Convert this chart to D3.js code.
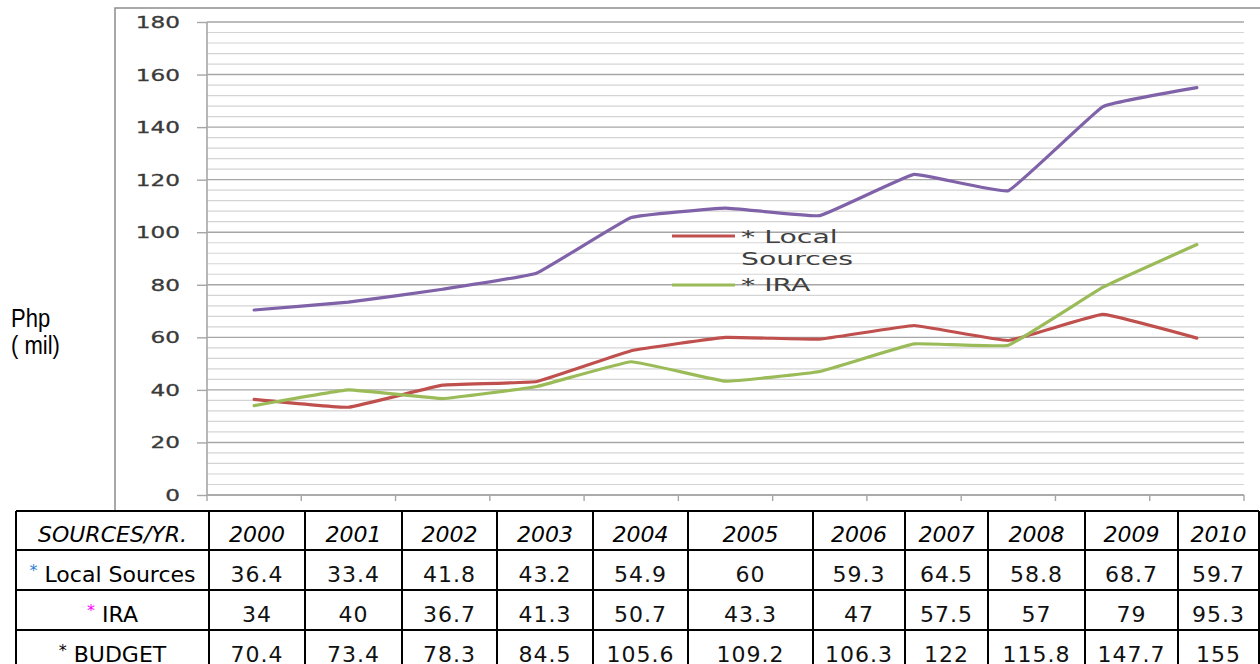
<!DOCTYPE html>
<html><head><meta charset="utf-8">
<script src="https://cdn.jsdelivr.net/npm/d3@7"></script>
<style>body{margin:0;background:#fff}svg{display:block}</style>
</head><body>
<svg id="c" width="1260" height="664"></svg>
<script>
const years = ["2000","2001","2002","2003","2004","2005","2006","2007","2008","2009","2010"];
const localSources = [36.4,33.4,41.8,43.2,54.9,60,59.3,64.5,58.8,68.7,59.7];
const ira = [34,40,36.7,41.3,50.7,43.3,47,57.5,57,79,95.3];
const budget = [70.4,73.4,78.3,84.5,105.6,109.2,106.3,122,115.8,147.7,155];
const yTicks = [0,20,40,60,80,100,120,140,160,180];
const tableLabels = ["Local Sources","IRA","BUDGET"];
const tableHeader = "SOURCES/YR.";
const legendLabels = ["* Local","Sources","* IRA"];

const svg = d3.select("#c");
const x = d3.scaleBand().domain(years).range([207,1244]);
const y = d3.scaleLinear().domain([0,180]).range([495,22]);

// outer chart frame
svg.append("rect").attr("x",115).attr("y",8).attr("width",1200).attr("height",510)
  .attr("fill","#fff").attr("stroke","#8c8c8c").attr("stroke-width",1.5);

// minor gridlines
const minor = d3.range(0,181,4).filter(v=>v%20!==0);
svg.append("g").selectAll("line").data(minor).join("line")
  .attr("x1",207).attr("x2",1244).attr("y1",d=>y(d)).attr("y2",d=>y(d))
  .attr("stroke","#d4d4d4").attr("stroke-width",1.2);
// major gridlines
svg.append("g").selectAll("line").data(yTicks).join("line")
  .attr("x1",207).attr("x2",1244).attr("y1",d=>y(d)).attr("y2",d=>y(d))
  .attr("stroke","#a6a6a6").attr("stroke-width",1.4);

// y axis
const ya = svg.append("g").attr("transform","translate(207,0)")
  .call(d3.axisLeft(y).tickValues(yTicks).tickSize(10).tickPadding(0).tickFormat(""));
ya.selectAll("line").attr("stroke","#a6a6a6").attr("stroke-width",1.4);
ya.select(".domain").attr("stroke","#a6a6a6").attr("stroke-width",1.6).attr("d","M0,"+y(180)+"V"+y(0));
svg.append("g").selectAll("text").data(yTicks).join("text")
  .attr("transform",d=>`translate(180,${y(d)+6}) scale(1.45,1)`)
  .attr("text-anchor","end").attr("font-family","DejaVu Sans").attr("font-size",16)
  .attr("fill","#3a3a3a").attr("stroke","#3a3a3a").attr("stroke-width",0.3).text(d=>d);

// x axis
svg.append("line").attr("x1",207).attr("x2",1244).attr("y1",y(0)).attr("y2",y(0))
  .attr("stroke","#a6a6a6").attr("stroke-width",1.6);
const bounds = years.map(d=>x(d)).concat([x.range()[1]]);
svg.append("g").selectAll("line").data(bounds).join("line")
  .attr("x1",d=>d).attr("x2",d=>d).attr("y1",y(0)).attr("y2",y(0)+6)
  .attr("stroke","#a6a6a6").attr("stroke-width",1.4);

// lines
const cx = d=>x(d)+x.bandwidth()/2;
const line = d3.line().x((d,i)=>cx(years[i])).y(d=>y(d)).curve(d3.curveCardinal.tension(0.75));
const series = [[budget,"#7f62a8"],[localSources,"#c0504d"],[ira,"#9bbb59"]];
svg.append("g").selectAll("path").data(series).join("path")
  .attr("d",d=>line(d[0])).attr("fill","none").attr("stroke",d=>d[1])
  .attr("stroke-width",3.2).attr("stroke-linejoin","round").attr("stroke-linecap","round");

// legend
const lg = svg.append("g");
lg.append("line").attr("x1",672).attr("x2",735).attr("y1",236).attr("y2",236).attr("stroke","#c0504d").attr("stroke-width",3);
lg.append("line").attr("x1",672).attr("x2",735).attr("y1",285).attr("y2",285).attr("stroke","#9bbb59").attr("stroke-width",3);
lg.selectAll("text").data(legendLabels).join("text")
  .attr("transform",(d,i)=>`translate(741,${[243,265,291][i]}) scale(1.62,1)`)
  .attr("font-family","DejaVu Sans").attr("font-size",17.5).attr("fill","#404040").text(d=>d);

// y label
svg.append("text").attr("transform","translate(11,327) scale(0.88,1)")
  .attr("font-family","Liberation Sans").attr("font-size",25).attr("fill","#000").text("Php");
svg.append("text").attr("transform","translate(11,354) scale(0.88,1)")
  .attr("font-family","Liberation Sans").attr("font-size",25).attr("fill","#000").text("( mil)");

// table
const colEdges = [16,209,305,402,497,593,688,813,905,988,1085,1178,1259];
const rowEdges = [511,550,590,630,672];
const tbl = svg.append("g");
tbl.append("rect").attr("x",16).attr("y",511).attr("width",1243).attr("height",160).attr("fill","#fff");
tbl.selectAll("line.h").data(rowEdges).join("line").attr("class","h")
  .attr("x1",16).attr("x2",1259).attr("y1",d=>d).attr("y2",d=>d).attr("stroke","#000").attr("stroke-width",2);
tbl.selectAll("line.v").data(colEdges).join("line").attr("class","v")
  .attr("x1",d=>d).attr("x2",d=>d).attr("y1",511).attr("y2",672).attr("stroke","#000").attr("stroke-width",2);
const colMid = i=>(colEdges[i]+colEdges[i+1])/2;
const tf = "DejaVu Sans", ts = 22;
// header
tbl.append("text").attr("x",colMid(0)).attr("y",rowEdges[0]+31).attr("text-anchor","middle")
  .attr("font-family",tf).attr("font-size",ts).attr("font-style","italic").text(tableHeader);
tbl.selectAll("text.yr").data(years).join("text").attr("class","yr")
  .attr("x",(d,i)=>colMid(i+1)).attr("y",rowEdges[0]+31).attr("text-anchor","middle")
  .attr("font-family",tf).attr("font-size",ts).attr("font-style","italic").text(d=>d);
const starColors = ["#2e7fd8","#ff00ff","#000"];
const rows = [localSources,ira,budget];
rows.forEach((vals,r)=>{
  const ty = rowEdges[r+1]+32;
  const t = tbl.append("text").attr("x",colMid(0)).attr("y",ty).attr("text-anchor","middle")
    .attr("font-family",tf).attr("font-size",ts);
  t.append("tspan").attr("fill",starColors[r]).attr("font-size",16).attr("dy",-6).text("*");
  t.append("tspan").attr("dy",6).text(" "+tableLabels[r]);
  tbl.selectAll("text.v"+r).data(vals).join("text").attr("class","v"+r)
    .attr("x",(d,i)=>colMid(i+1)).attr("y",ty).attr("text-anchor","middle")
    .attr("font-family",tf).attr("font-size",ts).attr("letter-spacing",1).attr("fill","#111")
    .text(d=>d);
});
</script>
</body></html>
